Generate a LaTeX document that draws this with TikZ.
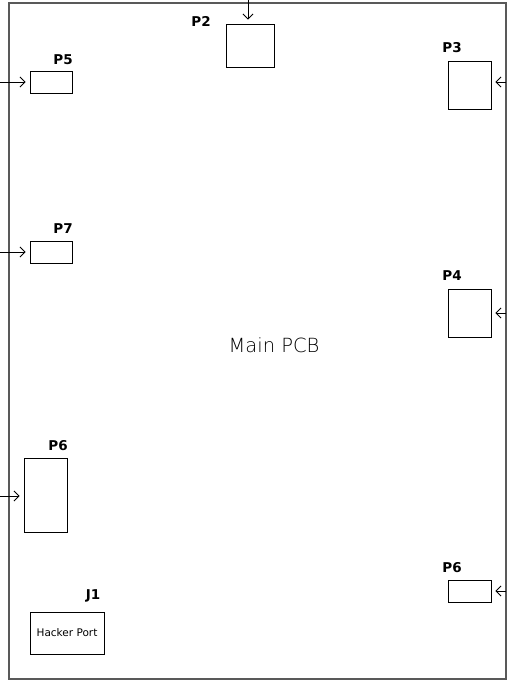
\documentclass[tikz,border=0pt]{standalone}
\usepackage{fontspec}
\setmainfont{DejaVu Sans}
\newfontfamily\thinfont{DejaVu Sans ExtraLight}
\usetikzlibrary{arrows.meta}
\tikzset{
  box/.style={draw, line width=0.9pt, inner sep=0pt, minimum width=#1},
  box/.default=43pt,
  lbl/.style={font=\fontsize{13.5}{14}\selectfont\bfseries, inner sep=0pt},
  arr/.style={line width=0.8pt, -{Straight Barb[length=5pt,width=10pt]}, shorten >=4pt},
  frame/.style={draw=black!65, line width=1.1pt}
}
\begin{document}
\begin{tikzpicture}[x=1pt,y=-1pt]
\useasboundingbox (0,0) rectangle (507,681);
\draw[frame] (9,3) rectangle (506,679);
% boxes
\node[box=48pt, minimum height=43pt] (p2) at (250,45.5) {};
\node[box=42pt, minimum height=22pt] (p5) at (51,82) {};
\node[box=43pt, minimum height=48pt] (p3) at (469.5,85) {};
\node[box=43pt, minimum height=48pt] (p4) at (469.5,313) {};
\node[box=42pt, minimum height=22pt] (p7) at (51,252) {};
\node[box=43pt, minimum height=74pt] (p6l) at (45.5,495) {};
\node[box=74pt, minimum height=42pt, font=\fontsize{10.5}{11}\selectfont] (j1) at (67,633) {Hacker Port};
\node[box=43pt, minimum height=22pt] (p6r) at (469.5,591) {};
% labels
\node[lbl] (lp2) at (201,21) {P2};
\node[lbl] (lp5) at (63,60) {P5};
\node[lbl] (lp3) at (452,48) {P3};
\node[lbl] (lp4) at (452,276) {P4};
\node[lbl] (lp7) at (63,229) {P7};
\node[lbl] (lp6l) at (58,446) {P6};
\node[lbl] (lj1) at (93,596) {J1};
\node[lbl] (lp6r) at (452,568) {P6};
\node[font=\thinfont\fontsize{19.5}{21}\selectfont, inner sep=0pt] (main) at (274,345) {Main PCB};
% arrow starts
\coordinate (s2) at (248,0);
\coordinate (s5) at (0,82);
\coordinate (s7) at (0,252);
\coordinate (s6l) at (0,496);
\coordinate (s3) at (506,82);
\coordinate (s4) at (506,313);
\coordinate (s6r) at (506,591);
% arrows
\draw[arr] (s2) -- (s2 |- p2.north);
\draw[arr] (s5) -- (s5 -| p5.west);
\draw[arr] (s7) -- (s7 -| p7.west);
\draw[arr] (s6l) -- (s6l -| p6l.west);
\draw[arr] (s3) -- (s3 -| p3.east);
\draw[arr] (s4) -- (s4 -| p4.east);
\draw[arr] (s6r) -- (s6r -| p6r.east);
\end{tikzpicture}
\end{document}
